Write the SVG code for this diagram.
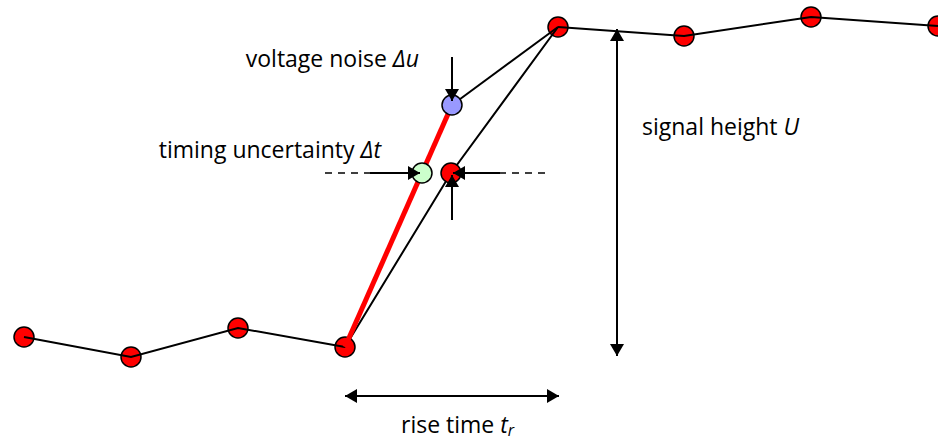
<svg xmlns="http://www.w3.org/2000/svg" width="938" height="444" viewBox="0 0 938 444">
<style>
.pt{stroke:#000;stroke-width:1.5}
.red{fill:#ff0000}
.blue{fill:#9999ff}
.green{fill:#ccffcc}
.ln{stroke:#000;stroke-width:2;fill:none}
.ar{stroke:#000;stroke-width:2;fill:none}
.dash{stroke:#000;stroke-width:1.5;stroke-dasharray:7,6;fill:none}
.lbl{font-family:"Open Sans","Liberation Sans",Arial,sans-serif;font-size:23px;fill:#000}
.it{font-style:italic}
</style>
<defs>
<marker id="ah" viewBox="0 0 12 14" refX="12" refY="7" markerWidth="12" markerHeight="14" markerUnits="userSpaceOnUse" orient="auto-start-reverse">
<path d="M0,0 L12,7 L0,14 Z" fill="#000"/>
</marker>
</defs>
<rect width="938" height="444" fill="#fff"/>
<g id="baseline-points">
<g id="p1"><circle class="pt red" cx="24" cy="337" r="10"/></g>
<g id="p2"><circle class="pt red" cx="131" cy="357" r="10"/></g>
<g id="p3"><circle class="pt red" cx="238" cy="328" r="10"/></g>
<g id="p4"><circle class="pt red" cx="345" cy="347" r="10"/></g>
<g id="p5"><circle class="pt red" cx="558" cy="27" r="10"/></g>
<g id="p6"><circle class="pt red" cx="684" cy="36" r="10"/></g>
<g id="p7"><circle class="pt red" cx="811" cy="17" r="10"/></g>
<g id="p8"><circle class="pt red" cx="938" cy="26" r="10"/></g>
</g>
<g id="connectors">
<polyline class="ln" points="24,337 131,357 238,328 345,347"/>
<polyline class="ln" points="558,27 684,36 811,17 938,26"/>
<polyline class="ln" points="345,347 451,173 558,27"/>
<line class="ln" x1="452" y1="105" x2="558" y2="27"/>
<line x1="345" y1="347" x2="452" y2="105" stroke="#ff0000" stroke-width="5"/>
</g>
<g id="blue-point"><circle class="pt blue" cx="452" cy="105" r="10"/></g>
<g id="green-point"><circle class="pt green" cx="422" cy="173" r="10"/></g>
<g id="mid-point"><circle class="pt red" cx="451" cy="173" r="10"/></g>
<g id="arrows">
<line class="ar" x1="452" y1="57" x2="452" y2="101" marker-end="url(#ah)"/>
<line class="ar" x1="452" y1="220" x2="452" y2="175" marker-end="url(#ah)"/>
<line class="dash" x1="325" y1="173" x2="370" y2="173"/>
<line class="ar" x1="370" y1="173" x2="420" y2="173" marker-end="url(#ah)"/>
<line class="dash" x1="545" y1="173" x2="500" y2="173"/>
<line class="ar" x1="500" y1="173" x2="453" y2="173" marker-end="url(#ah)"/>
<line class="ar" x1="617" y1="29" x2="617" y2="356" marker-start="url(#ah)" marker-end="url(#ah)"/>
<line class="ar" x1="345" y1="396" x2="559" y2="396" marker-start="url(#ah)" marker-end="url(#ah)"/>
</g>
<g id="labels">
<text class="lbl" x="419" y="67" text-anchor="end">voltage noise <tspan class="it">Δu</tspan></text>
<text class="lbl" x="381" y="158" text-anchor="end">timing uncertainty <tspan class="it">Δt</tspan></text>
<text class="lbl" x="642" y="135">signal height <tspan class="it">U</tspan></text>
<text class="lbl" x="401" y="433">rise time <tspan class="it">t</tspan><tspan class="it" font-size="16" dy="3">r</tspan></text>
</g>
</svg>
